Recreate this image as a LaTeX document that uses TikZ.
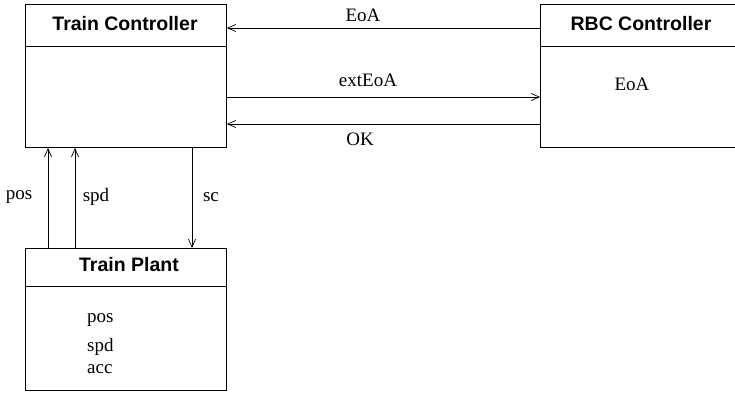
\documentclass[tikz,border=0pt]{standalone}
\usepackage{fontspec}
\setmainfont{Liberation Serif}
\setsansfont{Liberation Sans}
\usetikzlibrary{arrows.meta}
\begin{document}
\begin{tikzpicture}[x=1pt,y=-1pt,
  box/.style={draw, line width=0.9pt, rectangle, inner sep=0pt, anchor=north west},
  ttl/.style={font=\sffamily\bfseries\fontsize{19.5}{23}\selectfont, inner sep=0pt},
  lbl/.style={font=\fontsize{19}{22}\selectfont, inner sep=0pt},
  arr/.style={line width=0.8pt, -{Straight Barb[length=8pt,width=7pt,line width=0.7pt]}}]
\useasboundingbox (0,0) rectangle (735,394);
% boxes
\node[box, minimum width=201pt, minimum height=143pt] (tc) at (25,4) {};
\node[box, minimum width=202pt, minimum height=143pt] (rbc) at (540,4) {};
\node[box, minimum width=201pt, minimum height=142pt] (tp) at (25,248) {};
% header lines
\draw[line width=0.9pt] ([yshift=-42pt]tc.north west) -- ([yshift=-42pt]tc.north east);
\draw[line width=0.9pt] ([yshift=-42pt]rbc.north west) -- ([yshift=-42pt]rbc.north east);
\draw[line width=0.9pt] ([yshift=-38pt]tp.north west) -- ([yshift=-38pt]tp.north east);
% titles
\node[ttl] (tct) at (125,24) {Train Controller};
\node[ttl] (rbct) at (641,24) {RBC Controller};
\node[ttl] (tpt) at (129,265) {Train Plant};
% contents
\node[lbl] (rbcv) at (632,84) {EoA};
\node[lbl, anchor=west] (tpv1) at (87,320) {pos};
\node[lbl, anchor=west] (tpv2) at (87,347) {spd};
\node[lbl, anchor=west] (tpv3) at (87,369) {acc};
% connector coordinates
\coordinate (y1) at (0,28);
\coordinate (y2) at (0,97);
\coordinate (y3) at (0,124);
\coordinate (xp) at (48,0);
\coordinate (xs) at (75,0);
\coordinate (xc) at (192,0);
% arrows
\draw[arr] (rbc.west |- y1) -- (tc.east |- y1);
\draw[arr] (tc.east |- y2) -- (rbc.west |- y2);
\draw[arr] (rbc.west |- y3) -- (tc.east |- y3);
\draw[arr] (xp |- tp.north) -- (xp |- tc.south);
\draw[arr] (xs |- tp.north) -- (xs |- tc.south);
\draw[arr] (xc |- tc.south) -- (xc |- tp.north);
% labels
\node[lbl] (l1) at (363,15) {EoA};
\node[lbl] (l2) at (368,80) {extEoA};
\node[lbl] (l3) at (360,139) {OK};
\node[lbl] (l4) at (19,197) {pos};
\node[lbl] (l5) at (96,197) {spd};
\node[lbl] (l6) at (211,197) {sc};
\end{tikzpicture}
\end{document}
